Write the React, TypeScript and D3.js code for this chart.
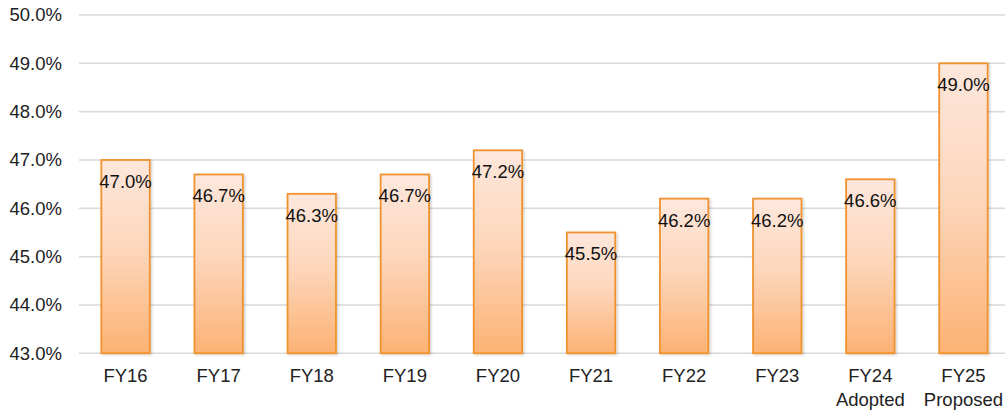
import React from "react";
import * as d3 from "d3";

const categories = [["FY16"], ["FY17"], ["FY18"], ["FY19"], ["FY20"], ["FY21"], ["FY22"], ["FY23"], ["FY24", "Adopted"], ["FY25", "Proposed"]];
const values = [47.0, 46.7, 46.3, 46.7, 47.2, 45.5, 46.2, 46.2, 46.6, 49.0];
const yTicks = [43, 44, 45, 46, 47, 48, 49, 50];

const W = 1005;
const H = 412;
const FONT = "'Liberation Sans', Arial, sans-serif";

export default function App() {
  const x = d3
    .scaleBand<number>()
    .domain(values.map((_, i) => i))
    .range([79, 1010])
    .paddingInner(0.48)
    .paddingOuter(0.24);
  const y = d3.scaleLinear().domain([43, 50]).range([353.3, 15]);

  return (
    <svg width={W} height={H} style={{ position: "absolute", left: 0, top: 0 }}>
      <defs>
        <linearGradient id="barGrad" x1="0" y1="0" x2="0" y2="1">
          <stop offset="0%" stopColor="#fde7dc" />
          <stop offset="45%" stopColor="#fdd7bd" />
          <stop offset="100%" stopColor="#fcb274" />
        </linearGradient>
        <filter id="shadow" x="-20%" y="-5%" width="140%" height="110%">
          <feDropShadow dx="1.5" dy="1" stdDeviation="1.2" floodColor="#000" floodOpacity="0.18" />
        </filter>
      </defs>
      <rect width={W} height={H} fill="#fff" />
      {yTicks.map((t) => (
        <g key={t}>
          <line x1={79} x2={W} y1={y(t)} y2={y(t)} stroke="#d9d9d9" strokeWidth={1.5} />
          <text
            x={62}
            y={y(t)}
            dy="0.35em"
            textAnchor="end"
            fontFamily={FONT}
            fontSize={18.5}
            fill="#222"
          >
            {t.toFixed(1) + "%"}
          </text>
        </g>
      ))}
      {values.map((v, i) => {
        const bx = x(i)!;
        const bw = x.bandwidth();
        const top = y(v);
        return (
          <g key={i}>
            <rect
              x={bx}
              y={top}
              width={bw}
              height={y(43) - top}
              fill="url(#barGrad)"
              stroke="#f0922e"
              strokeWidth={1.8}
              filter="url(#shadow)"
            />
            <text
              x={bx + bw / 2}
              y={top + 28}
              textAnchor="middle"
              fontFamily={FONT}
              fontSize={18.5}
              fill="#111"
            >
              {v.toFixed(1) + "%"}
            </text>
            {categories[i].map((line, j) => (
              <text
                key={j}
                x={bx + bw / 2}
                y={382 + j * 23.5}
                textAnchor="middle"
                fontFamily={FONT}
                fontSize={18.5}
                fill="#222"
              >
                {line}
              </text>
            ))}
          </g>
        );
      })}
    </svg>
  );
}
